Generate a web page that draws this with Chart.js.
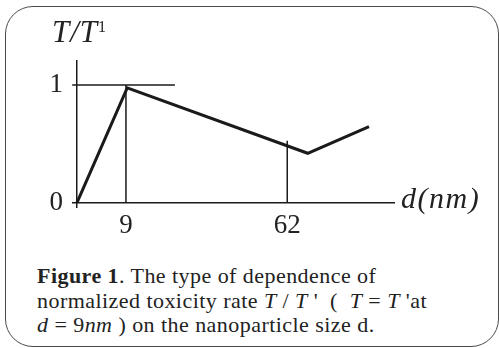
<!DOCTYPE html>
<html>
<head>
<meta charset="utf-8">
<script src="https://cdn.jsdelivr.net/npm/chart.js@4"></script>
<style>
  body { margin: 0; width: 499px; height: 348px; overflow: hidden; background: #fff; position: relative; font-family: "Liberation Serif", serif; color: #222; }
  #frame { position: absolute; left: 5px; top: 6px; width: 494px; height: 341px; box-sizing: border-box; border: 1.5px solid #4a4a4a; border-radius: 28px; }
  #plot { position: absolute; left: 0; top: 0; width: 499px; height: 240px; }
  .lbl { position: absolute; font-style: italic; line-height: 1; white-space: nowrap; }
  #ytitle { left: 52px; top: 16px; font-size: 31px; letter-spacing: 1px; }
  #ytitle sup { font-size: 16px; vertical-align: 10px; font-style: normal; }
  #xtitle { left: 401px; top: 183px; font-size: 30px; letter-spacing: 1.5px; }
  #caption { position: absolute; left: 37px; top: 264px; font-size: 22px; letter-spacing: 0.45px; line-height: 24.5px; white-space: pre; }
</style>
</head>
<body>
<div id="frame"></div>
<div id="plot"><canvas id="chart"></canvas></div>
<div class="lbl" id="ytitle">T/T<sup>1</sup></div>
<div class="lbl" id="xtitle">d(nm)</div>
<div id="caption"><b>Figure 1</b>. The type of dependence of
normalized toxicity rate <i>T</i> / <i>T</i> '  (  <i>T</i> = <i>T</i> 'at
<i>d</i> = 9<i>nm</i> ) on the nanoparticle size d.</div>
<script>
// positions along the (not to scale) d axis, in drawing units
const tickPos = [0, 15.3, 65.7];
const tickLabels = ["", "9", "62"];
const yTicks = [0, 1];

// T/T' curve
const curveX = [0, 15.7, 72.1, 91.25];
const curveY = [0, 0.975, 0.42, 0.646];

// reference line T/T' = 1
const refX = [-1.5, 30.6];
const refY = 1;

// vertical drop lines at d = 9 and d = 62
const dropX = [15.3, 65.7];
const dropTop = [1, 0.527];

const ink = "#1a1a1a";

const datasets = [
  {
    data: curveX.map((x, i) => ({ x: x, y: curveY[i] })),
    borderColor: ink, borderWidth: 3, showLine: true, pointRadius: 0
  },
  {
    data: refX.map(x => ({ x: x, y: refY })),
    borderColor: ink, borderWidth: 1.5, showLine: true, pointRadius: 0
  }
];
dropX.forEach((x, i) => {
  datasets.push({
    data: [{ x: x, y: 0 }, { x: x, y: dropTop[i] }],
    borderColor: ink, borderWidth: 1.5, showLine: true, pointRadius: 0
  });
});

new Chart(document.getElementById("chart"), {
  type: "scatter",
  data: { datasets: datasets },
  options: {
    responsive: true,
    maintainAspectRatio: false,
    animation: false,
    layout: { padding: { left: 0, top: 60, right: 104, bottom: 0 } },
    plugins: { legend: { display: false }, tooltip: { enabled: false } },
    scales: {
      x: {
        type: "linear", min: -1.5625, max: 99.375,
        afterBuildTicks: s => { s.ticks = tickPos.map(v => ({ value: v })); },
        afterFit: s => { s.height = 32; },
        ticks: {
          autoSkip: false, maxRotation: 0, padding: 2, color: "#222",
          font: { family: "Liberation Serif", size: 27 },
          callback: v => tickLabels[tickPos.indexOf(v)]
        },
        grid: {
          drawTicks: false, lineWidth: 1.5,
          color: c => (c.tick && c.tick.value === 0 ? ink : "transparent")
        },
        border: { display: false }
      },
      y: {
        type: "linear", min: -0.045, max: 1.2124,
        afterBuildTicks: s => { s.ticks = yTicks.map(v => ({ value: v })); },
        afterFit: s => { s.width = 72; },
        ticks: {
          padding: 9, color: "#222",
          font: { family: "Liberation Serif", size: 27 },
          callback: v => String(v)
        },
        grid: {
          drawTicks: false, lineWidth: 1.5,
          color: c => (c.tick && c.tick.value === 0 ? ink : "transparent")
        },
        border: { display: false }
      }
    }
  }
});
</script>
</body>
</html>
